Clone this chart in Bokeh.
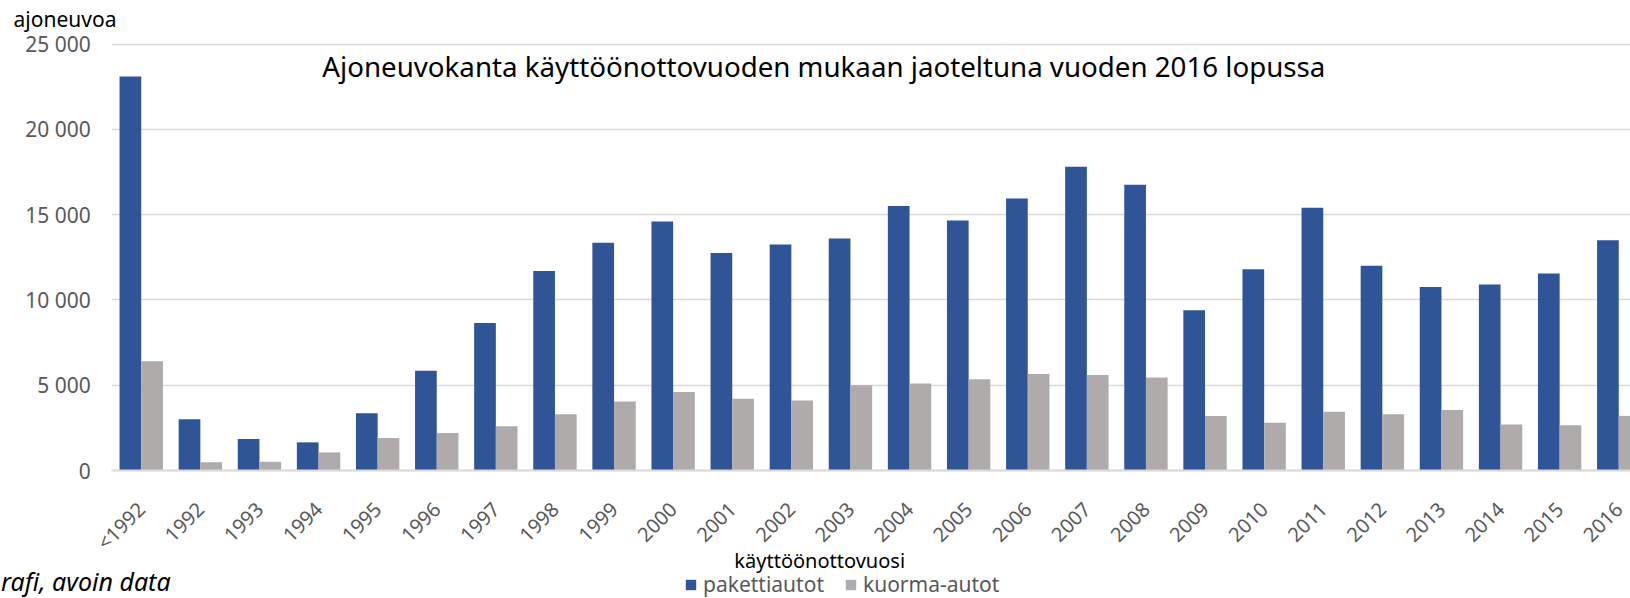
from bokeh.plotting import figure
from bokeh.models import (ColumnDataSource, Range1d, FixedTicker, Label, Legend,
                          LegendItem, BoxAnnotation)
from bokeh.transform import dodge
from bokeh.embed import file_html
from bokeh.resources import INLINE

categories = ["<1992", "1992", "1993", "1994", "1995", "1996", "1997", "1998", "1999",
              "2000", "2001", "2002", "2003", "2004", "2005", "2006", "2007", "2008",
              "2009", "2010", "2011", "2012", "2013", "2014", "2015", "2016"]
pakettiautot = [23100, 3000, 1850, 1650, 3350, 5850, 8650, 11700, 13350,
                14600, 12750, 13250, 13600, 15500, 14650, 15950, 17800, 16750,
                9400, 11800, 15400, 12000, 10750, 10900, 11550, 13500]
kuorma_autot = [6400, 480, 510, 1060, 1900, 2200, 2600, 3300, 4050,
                4600, 4200, 4100, 5000, 5100, 5350, 5650, 5600, 5450,
                3200, 2800, 3450, 3300, 3550, 2700, 2650, 3200]
y_ticks = [0, 5000, 10000, 15000, 20000, 25000]

title_text = "Ajoneuvokanta käyttöönottovuoden mukaan jaoteltuna vuoden 2016 lopussa"
y_title = "ajoneuvoa"
x_title = "käyttöönottovuosi"
source_text = "rafi, avoin data"

FONT = "Noto Sans"
BLUE = "#2F5597"
GREY = "#AFABAB"

idx = list(range(len(categories)))
src = ColumnDataSource(dict(idx=idx, cat=categories, paketti=pakettiautot, kuorma=kuorma_autot))

W, H = 1630, 598
cat_px = 59.1                 # pixels per category
x0_px = 111.2                 # pixel position of category boundary -0.5
x_start = -0.5 - x0_px / cat_px
x_end = x_start + W / cat_px
ppu = 85.3 / 5000             # pixels per unit on y
zero_px = 470                 # pixel row of y=0 from top
y_top = zero_px / ppu
y_bot = -(H - zero_px) / ppu

p = figure(width=W, height=H, output_backend="svg", toolbar_location=None,
           x_range=Range1d(x_start, x_end), y_range=Range1d(y_bot, y_top),
           min_border_left=0, min_border_right=0, min_border_top=0,
           min_border_bottom=0)
p.outline_line_color = None
p.background_fill_color = "white"
p.border_fill_color = "white"

bw = 0.367
r1 = p.vbar(x=dodge("idx", -bw / 2), top="paketti", width=bw, source=src,
            fill_color=BLUE, line_color=None)
r2 = p.vbar(x=dodge("idx", bw / 2), top="kuorma", width=bw, source=src,
            fill_color=GREY, line_color=None)

# y axis
p.yaxis.fixed_location = -0.5
p.yaxis.ticker = FixedTicker(ticks=y_ticks)
p.yaxis.major_label_overrides = {v: f"{v:,}".replace(",", " ") for v in y_ticks}
p.yaxis.axis_line_color = None
p.yaxis.major_tick_line_color = None
p.yaxis.minor_tick_line_color = None
p.yaxis.major_tick_out = 0
p.yaxis.major_tick_in = 0
p.yaxis.major_label_standoff = 21
p.yaxis.major_label_text_font = FONT
p.yaxis.major_label_text_font_size = "21px"
p.yaxis.major_label_text_color = "#595959"

# x axis
p.xaxis.fixed_location = 0
p.xaxis.bounds = (-0.5, x_end)
p.xaxis.ticker = FixedTicker(ticks=idx)
p.xaxis.major_label_overrides = {i: c for i, c in zip(idx, categories)}
p.xaxis.major_label_orientation = 0.7854
p.xaxis.axis_line_color = "#D9D9D9"
p.xaxis.axis_line_width = 2
p.xaxis.major_tick_line_color = None
p.xaxis.minor_tick_line_color = None
p.xaxis.major_tick_out = 0
p.xaxis.major_tick_in = 0
p.xaxis.major_label_standoff = 35
p.xaxis.major_label_text_font = FONT
p.xaxis.major_label_text_font_size = "20px"
p.xaxis.major_label_text_color = "#595959"

p.xgrid.grid_line_color = None
p.ygrid.grid_line_color = "#D9D9D9"
p.ygrid.grid_line_width = 1.3
p.ygrid.ticker = FixedTicker(ticks=y_ticks)

# hide gridlines in the label area left of the plot
p.add_layout(BoxAnnotation(right=-0.5, fill_color="white", fill_alpha=1.0,
                           line_color=None, level="underlay"))

# texts
p.add_layout(Label(x=11.55, y=23710, text=title_text, text_align="center",
                   text_baseline="middle", text_font=FONT, text_font_size="27.7px",
                   text_color="black"))
p.add_layout(Label(x=-2.16, y=26440, text=y_title, text_align="left",
                   text_baseline="middle", text_font=FONT, text_font_size="21px",
                   text_color="black"))
p.add_layout(Label(x=11.48, y=-5300, text=x_title, text_align="center",
                   text_baseline="middle", text_font=FONT, text_font_size="20px",
                   text_color="black"))
p.add_layout(Label(x=x_start + 0.01, y=-7450, text=source_text, text_align="left",
                   text_baseline="bottom", text_font=FONT, text_font_size="25px",
                   text_font_style="italic", text_color="black"))

legend = Legend(items=[LegendItem(label="pakettiautot", renderers=[r1]),
                       LegendItem(label="kuorma-autot", renderers=[r2])],
                location=(684, 0), orientation="horizontal",
                label_text_font=FONT, label_text_font_size="21px",
                label_text_color="#595959", glyph_width=13, glyph_height=13,
                label_standoff=6, spacing=20, padding=0, margin=0,
                border_line_color=None, background_fill_alpha=0)
p.add_layout(legend)

open("out.html", "w").write(file_html(p, INLINE))
